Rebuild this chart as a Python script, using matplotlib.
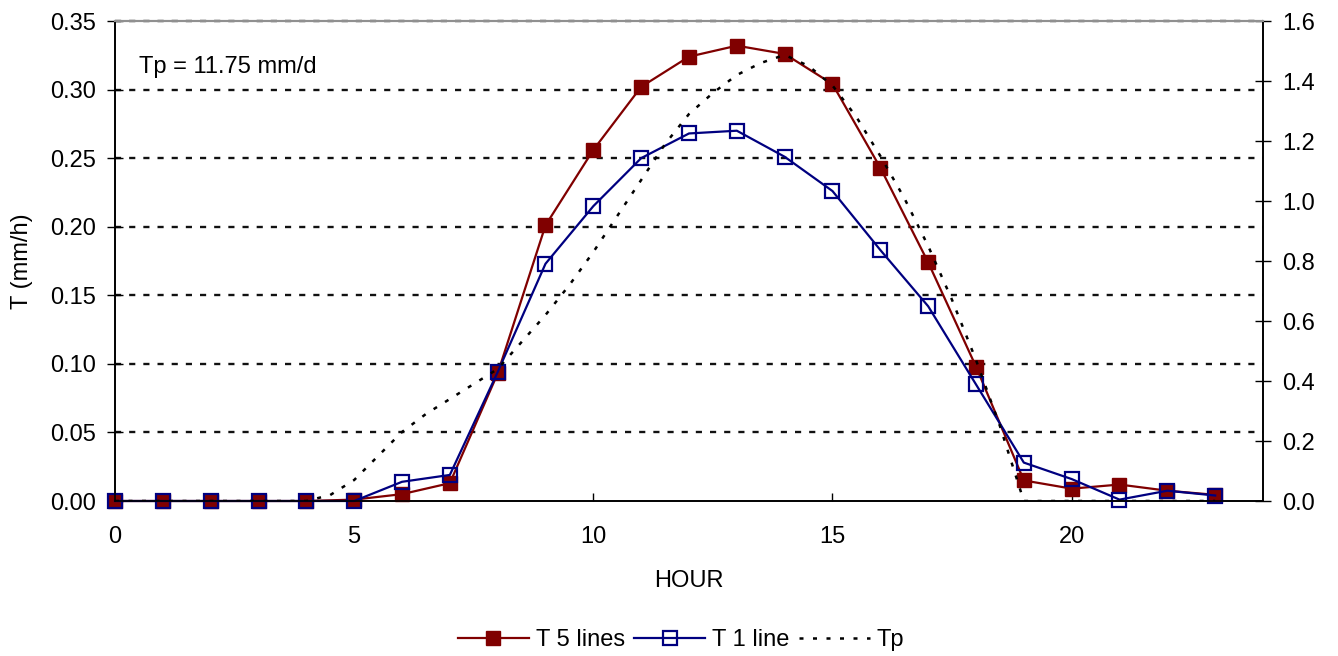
import matplotlib
matplotlib.use("Agg")
import matplotlib.pyplot as plt
import numpy as np

plt.rcParams['font.family'] = ['Liberation Sans', 'DejaVu Sans']

hours = list(range(24))
t5_lines = [0.0, 0.0, 0.0, 0.0, 0.0, 0.001, 0.005, 0.013, 0.093, 0.201, 0.256, 0.302,
            0.324, 0.332, 0.326, 0.304, 0.243, 0.174, 0.098, 0.015, 0.009, 0.012, 0.0075, 0.0045]
t1_line = [0.0, 0.0, 0.0, 0.0, 0.0, 0.0, 0.014, 0.019, 0.094, 0.173, 0.215, 0.250,
           0.268, 0.270, 0.251, 0.226, 0.183, 0.142, 0.085, 0.028, 0.016, 0.001, 0.0075, 0.004]

tp_hours = [0, 1, 2, 3, 4, 4.5, 5, 5.5, 6, 6.5, 7, 7.5, 8, 8.5, 9, 9.5, 10, 10.5, 11, 11.5,
            12, 12.5, 13, 13.5, 14, 14.5, 15, 15.5, 16, 16.5, 17, 17.5, 18, 18.5, 19,
            20, 21, 22, 23]
tp_values = [0, 0, 0, 0, 0, 0.02, 0.07, 0.15, 0.23, 0.29, 0.34, 0.39, 0.44, 0.53, 0.62, 0.72,
             0.83, 0.95, 1.07, 1.19, 1.29, 1.36, 1.42, 1.46, 1.487, 1.45, 1.385, 1.28, 1.15,
             1.01, 0.85, 0.67, 0.47, 0.25, 0.0, 0, 0, 0, 0]

left_ticks = [0.00, 0.05, 0.10, 0.15, 0.20, 0.25, 0.30, 0.35]
right_ticks = [0.0, 0.2, 0.4, 0.6, 0.8, 1.0, 1.2, 1.4, 1.6]
x_ticks = [0, 5, 10, 15, 20]

FS = 17
fig = plt.figure(figsize=(13.38, 6.56), dpi=100)
ax = fig.add_axes([115/1338, 1-501/656, (1263-115)/1338, (501-21)/656])
ax2 = ax.twinx()

red = '#800000'
blue = '#000080'

for y in left_ticks[1:]:
    ax.axhline(y, color='#111111', lw=1.7, linestyle=(0, (2.6, 3.4)), zorder=1, clip_on=False)

l1, = ax.plot(hours, t5_lines, color=red, lw=1.6, marker='s', ms=10,
              mfc=red, mec=red, clip_on=False, zorder=3, label='T 5 lines')
l2, = ax.plot(hours, t1_line, color=blue, lw=1.6, marker='s', ms=9.5,
              mfc='none', mec=blue, mew=1.6, clip_on=False, zorder=4, label='T 1 line')
l3, = ax2.plot(tp_hours, tp_values, color='black', lw=1.8, linestyle=(0, (1.6, 3.8)),
               zorder=5, label='Tp')

ax.set_xlim(0, 24)
ax.set_ylim(0, 0.35)
ax2.set_ylim(0, 1.6)

ax.set_xticks(x_ticks)
ax.set_yticks(left_ticks)
ax.set_yticklabels([f"{v:.2f}" for v in left_ticks])
ax2.set_yticks(right_ticks)
ax2.set_yticklabels([f"{v:.1f}" for v in right_ticks])

ax.tick_params(axis='x', direction='in', length=6, width=1, pad=18, labelsize=FS)
ax.tick_params(axis='y', direction='inout', length=12, width=1, pad=8, labelsize=FS)
ax2.tick_params(axis='y', direction='inout', length=12, width=1, pad=8, labelsize=FS)

for a in (ax, ax2):
    a.spines['top'].set_color('#909090')
    a.spines['top'].set_linewidth(1.5)
    for s in ('left', 'right', 'bottom'):
        a.spines[s].set_color('black')
        a.spines[s].set_linewidth(1.2)

ax.set_xlabel('HOUR', fontsize=FS, labelpad=16)
ax.set_ylabel('T (mm/h)', fontsize=FS, labelpad=12)

ax.text(0.5, 0.3165, 'Tp = 11.75 mm/d', fontsize=FS, va='center', ha='left')

fig.legend(handles=[l1, l2, l3], loc='center', bbox_to_anchor=(681/1338, 1-640/656),
           ncol=3, frameon=False, fontsize=FS, handlelength=3.0, handletextpad=0.3,
           columnspacing=0.4, borderpad=0)

fig.savefig('out.png', dpi=100)
